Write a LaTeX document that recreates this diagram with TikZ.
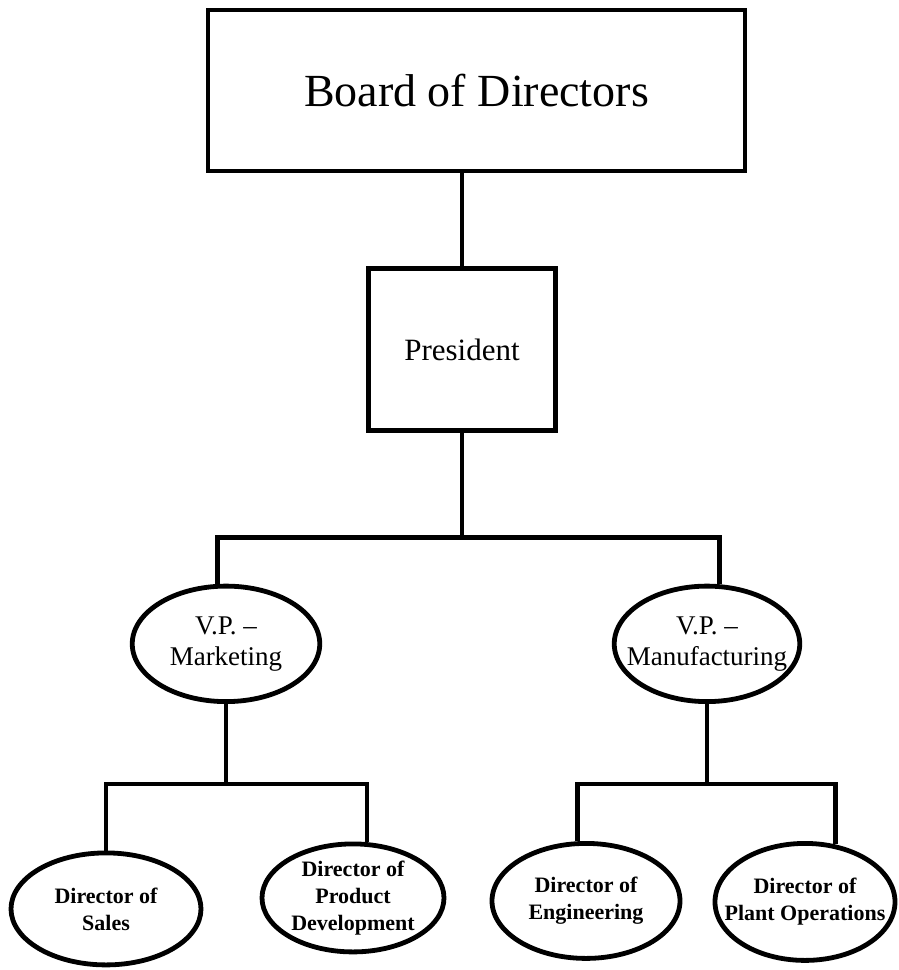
\documentclass[tikz,border=0pt]{standalone}
\usepackage{fontspec}
\setmainfont{Liberation Serif}
\usetikzlibrary{positioning, shapes.geometric}

\begin{document}
\begin{tikzpicture}[
    node distance=1cm,
    orgbox/.style={
        rectangle, draw, line width=4.8pt,
        minimum width=#1, inner sep=0pt, align=center
    },
    orgoval/.style={
        ellipse, draw, line width=4.8pt,
        inner xsep=-30pt, inner ysep=-20pt, align=center
    },
    vptext/.style={font=\fontsize{27}{31}\selectfont},
    dirtext/.style={font=\bfseries\fontsize{22}{27}\selectfont},
    link/.style={line width=4.8pt}
]
\useasboundingbox (0,0) rectangle (899pt,-970pt);

%% ---- Top: Board and President ----
\node[orgbox=537pt, minimum height=161pt,
      font=\fontsize{46}{50}\selectfont] (board) at (476.5pt,-90.5pt) {Board of Directors};
\node[orgbox=187.5pt, minimum height=161.5pt,
      font=\fontsize{31}{35}\selectfont,
      below=93pt of board, xshift=-14.5pt] (pres) {President};

%% ---- Vice presidents ----
\node[orgoval, vptext, minimum width=187.5pt, minimum height=115.5pt,
      below=151pt of pres, xshift=-236pt] (vpmkt) {V.P. \textendash\\Marketing};
\node[orgoval, vptext, minimum width=185.5pt, minimum height=115.5pt,
      below=151pt of pres, xshift=245pt] (vpmfg) {V.P. \textendash\\Manufacturing};

%% ---- Directors under Marketing ----
\node[orgoval, dirtext, minimum width=190pt, minimum height=112pt,
      below=146.5pt of vpmkt, xshift=-120pt] (sales) {Director of\\Sales};
\node[orgoval, dirtext, minimum width=182pt, minimum height=108pt,
      below=137.5pt of vpmkt, xshift=127pt] (proddev) {Director of\\Product\\Development};

%% ---- Directors under Manufacturing ----
\node[orgoval, dirtext, minimum width=188pt, minimum height=115pt,
      below=137pt of vpmfg, xshift=-121pt] (eng) {Director of\\Engineering};
\node[orgoval, dirtext, minimum width=180pt, minimum height=117pt,
      below=137pt of vpmfg, xshift=98pt] (plantops) {Director of\\Plant Operations};

% Connections
\coordinate (topbar) at ([yshift=-105pt]pres.south);
\coordinate (mktbar) at ([yshift=-80pt]vpmkt.south);
\coordinate (mfgbar) at ([yshift=-80pt]vpmfg.south);

\draw[link] (board.south -| pres.north) -- (pres.north);
\draw[link] (pres.south) -- (topbar);
\draw[link] (vpmkt.98) |- (topbar) -| (vpmfg.78);

\draw[link] (vpmkt.south) -- (mktbar);
\draw[link] (sales.north) |- (mktbar) -| (proddev.76);

\draw[link] (vpmfg.south) -- (mfgbar);
\draw[link] (eng.98) |- (mfgbar) -| (plantops.62);

\end{tikzpicture}
\end{document}
